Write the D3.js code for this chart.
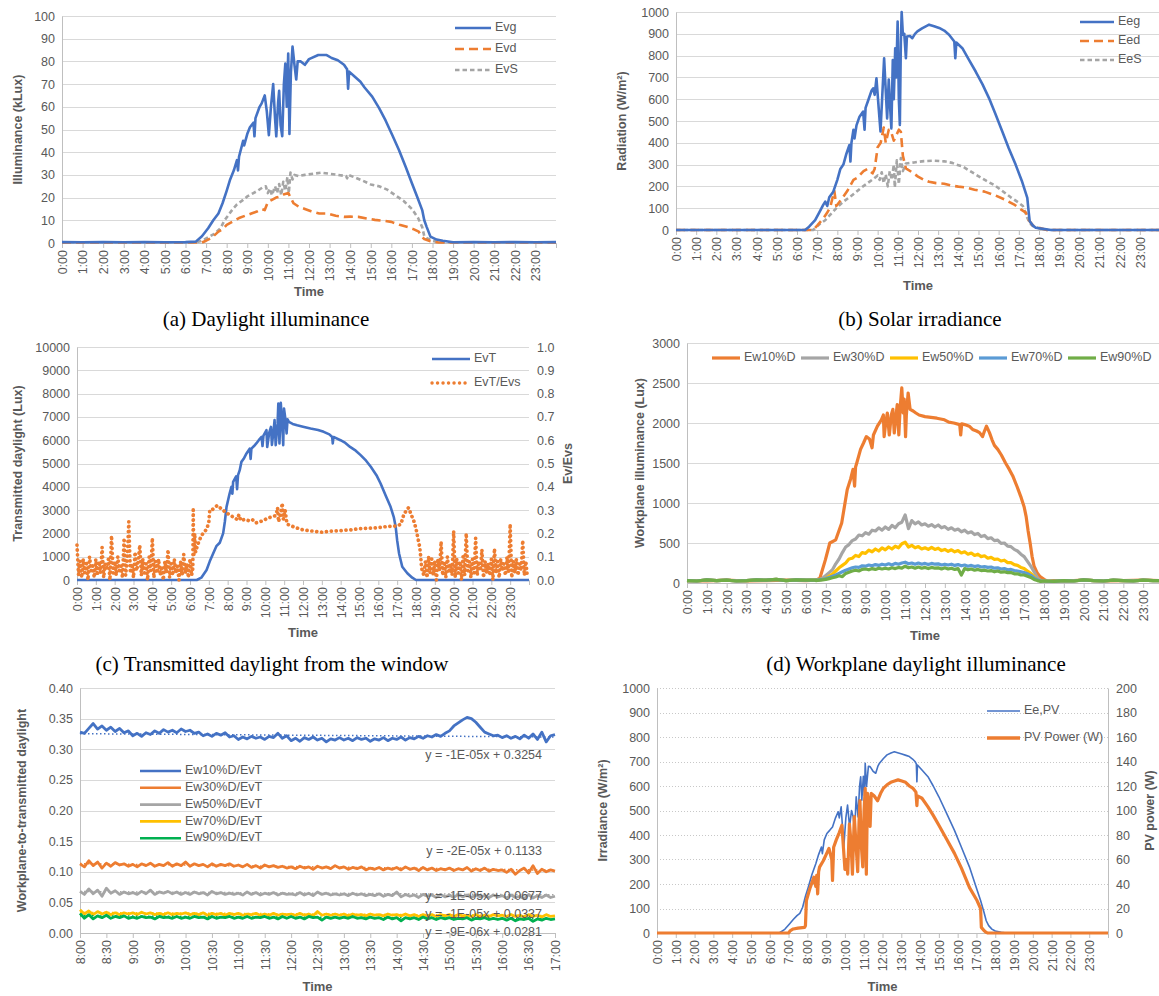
<!DOCTYPE html>
<html>
<head>
<meta charset="utf-8">
<script src="https://cdn.jsdelivr.net/npm/d3@7"></script>
<style>
  body { margin: 0; background: #fff; }
  svg { display: block; }
</style>
</head>
<body>
<svg id="fig" width="1159" height="996"></svg>
<script>
// ---------- data (hour, value) ----------

// (a) daylight illuminance, kLux
const evg = [[0,0.4],[1,0.3],[2,0.4],[3,0.3],[4,0.4],[5,0.3],[6,0.4],[6.5,0.6],[6.8,3],[7.1,6.5],[7.35,10],[7.6,13],[7.8,17.5],[8,23],[8.17,28],[8.35,32],[8.5,36.5],[8.55,32],[8.6,38],[8.8,45],[8.85,43],[9.0,48],[9.13,51],[9.3,53],[9.35,47],[9.4,55],[9.6,60],[9.7,61.5],[9.85,65],[9.95,58],[10.05,47.5],[10.15,60],[10.26,70],[10.35,55],[10.41,47],[10.5,62],[10.55,67],[10.62,52],[10.7,47],[10.78,70],[10.85,79],[10.92,60],[10.99,83.5],[11.05,48],[11.12,75],[11.2,86.5],[11.3,78],[11.38,72],[11.45,80],[11.6,80],[11.8,78.5],[12.0,81],[12.45,82.8],[12.86,82.8],[13.1,81.5],[13.4,80.5],[13.7,78.5],[13.85,76.5],[13.9,68],[13.95,75.5],[14.2,73.5],[14.5,71],[14.7,68.5],[15.07,64.5],[15.4,59.5],[15.72,54],[16.05,47.5],[16.37,41],[16.7,33.5],[17.0,26.3],[17.25,20.5],[17.5,14.5],[17.6,10],[17.72,7],[17.9,2.8],[18.2,1.5],[18.5,1],[19,0.3],[20,0.4],[21,0.3],[22,0.4],[23,0.3],[24,0.4]]
const evd = [[0,0.2],[6.8,0.2],[7.0,1],[7.3,2.5],[7.6,5],[7.8,6],[8.0,8],[8.3,9.5],[8.6,11],[8.9,12],[9.2,13],[9.5,14],[9.7,15],[9.85,14.5],[10.0,18],[10.2,19],[10.4,20],[10.6,20.5],[10.8,21.5],[11.0,22],[11.1,20],[11.25,17.5],[11.5,16],[11.8,15],[12.1,14],[12.5,13],[12.9,13],[13.3,12],[13.7,11.5],[14.0,11.6],[14.4,11.5],[14.8,10.8],[15.2,10.2],[15.6,9.8],[16,9.3],[16.4,8],[16.8,7],[17.1,6],[17.33,5],[17.45,3],[17.6,1.8],[17.9,0.8],[18.3,0.2],[24,0.2]]
const evs = [[0,0.3],[6.5,0.3],[6.8,1],[7.1,2.5],[7.4,4],[7.7,6.5],[7.9,10],[8.1,12.5],[8.3,15],[8.5,17],[8.8,19],[9.0,20.5],[9.3,22],[9.5,23],[9.75,24.5],[9.9,25],[10.0,22],[10.1,24],[10.2,21],[10.35,25],[10.45,22],[10.55,26],[10.65,21],[10.75,27],[10.85,23],[10.95,29],[11.02,22],[11.1,31],[11.2,28],[11.3,30],[11.5,29.5],[11.8,30],[12.2,30.5],[12.6,31],[13.0,30.5],[13.4,30],[13.8,29.5],[13.85,28.5],[13.9,30],[14.2,29],[14.6,27.5],[15.0,25.8],[15.4,25],[15.8,23.5],[16.2,21],[16.6,18.5],[17.0,15],[17.3,11],[17.5,7],[17.6,3],[17.75,2],[18.0,1],[18.3,0.3],[24,0.3]]

// (b) solar irradiance, W/m2
const eeg = [[0,0],[6.4,0],[6.6,15],[6.9,45],[7.1,80],[7.3,115],[7.4,130],[7.5,110],[7.6,150],[7.8,176],[8.0,230],[8.15,280],[8.3,300],[8.45,350],[8.6,390],[8.65,314],[8.7,400],[8.8,460],[8.85,420],[8.95,480],[9.1,520],[9.28,543],[9.35,460],[9.4,560],[9.55,600],[9.7,640],[9.78,650],[9.85,620],[9.94,696],[10.05,560],[10.14,452],[10.22,600],[10.32,788],[10.4,640],[10.47,512],[10.55,690],[10.62,560],[10.68,466],[10.75,780],[10.8,600],[10.87,834],[10.92,700],[10.99,956],[11.05,600],[11.1,482],[11.15,860],[11.19,1000],[11.25,896],[11.32,900],[11.4,788],[11.45,888],[11.6,890],[11.72,880],[11.85,900],[11.97,911],[12.2,925],[12.55,942],[12.8,935],[13.05,927],[13.3,915],[13.54,896],[13.8,865],[13.85,788],[13.9,860],[14.2,834],[14.5,785],[14.86,727],[15.2,668],[15.52,605],[15.85,530],[16.18,452],[16.5,375],[16.84,300],[17.15,225],[17.42,147],[17.48,90],[17.54,40],[17.7,20],[17.84,10],[18.2,5],[18.6,0],[24,0]]
const eed = [[0,0],[6.8,0],[7.0,20],[7.3,53],[7.5,80],[7.65,105],[7.85,180],[7.95,110],[8.2,140],[8.5,180],[8.8,230],[9.0,240],[9.3,270],[9.5,280],[9.75,260],[9.85,280],[10.0,380],[10.15,400],[10.3,470],[10.4,400],[10.55,460],[10.7,440],[10.8,410],[10.95,440],[11.05,460],[11.15,450],[11.25,340],[11.4,283],[11.7,265],[12.0,245],[12.3,230],[12.55,221],[12.9,215],[13.3,212],[13.6,205],[14.0,199],[14.4,195],[14.8,185],[15.3,176],[15.8,160],[16.3,140],[16.8,115],[17.1,95],[17.35,80],[17.5,45],[17.7,20],[18.0,10],[18.4,0],[24,0]]
const ees = [[0,0],[6.8,0],[7.1,25],[7.4,45],[7.7,75],[8.0,105],[8.3,130],[8.6,150],[8.9,172],[9.2,195],[9.5,215],[9.8,235],[10.0,250],[10.1,230],[10.2,265],[10.3,215],[10.4,255],[10.5,200],[10.6,270],[10.7,230],[10.8,300],[10.85,195],[10.95,320],[11.05,210],[11.15,330],[11.25,270],[11.4,305],[11.8,310],[12.3,316],[12.8,318],[13.3,315],[13.7,308],[13.9,300],[14.2,292],[14.8,258],[15.4,225],[15.8,205],[16.2,178],[16.6,150],[17.0,125],[17.2,110],[17.4,60],[17.55,30],[17.7,18],[18.0,8],[18.4,0],[24,0]]

// (c) transmitted daylight (Lux) and EvT/Evs ratio
const evt = [[0,0],[6.36,0],[6.6,100],[6.88,430],[7.05,800],[7.23,1140],[7.4,1450],[7.58,1600],[7.76,2000],[7.85,2500],[7.94,3140],[8.1,3700],[8.2,4000],[8.25,3700],[8.29,4210],[8.45,4450],[8.5,3900],[8.55,4500],[8.64,4714],[8.73,5070],[8.85,5200],[9.0,5430],[9.17,5640],[9.22,5200],[9.26,5640],[9.4,5750],[9.52,5860],[9.65,6000],[9.8,6140],[9.85,5750],[9.9,6200],[10.06,6430],[10.1,5710],[10.2,6300],[10.3,6570],[10.35,5800],[10.45,6500],[10.49,6860],[10.55,5790],[10.65,6700],[10.69,7570],[10.75,5860],[10.8,7000],[10.82,7600],[10.9,6600],[10.95,5790],[10.99,7360],[11.05,7000],[11.13,6290],[11.18,6900],[11.25,6790],[11.45,6700],[11.69,6640],[12.0,6580],[12.4,6500],[12.8,6440],[13.1,6360],[13.4,6250],[13.55,6140],[13.58,5860],[13.62,6140],[13.99,6000],[14.25,5880],[14.5,5710],[14.8,5550],[15.06,5360],[15.35,5120],[15.6,4860],[15.9,4500],[16.12,4140],[16.4,3600],[16.65,3140],[16.82,2700],[16.92,2290],[17.0,1700],[17.1,1140],[17.27,570],[17.54,290],[17.8,100],[18.0,0],[24,0]]
// night ratio samples every 5 minutes
const ratioNightAm = [.15,.02,.08,.01,.09,.03,.07,.00,.10,.04,.06,.01,
  .09,.02,.08,.03,.14,.01,.07,.05,.09,.00,.19,.03,
  .08,.02,.10,.04,.06,.01,.18,.02,.09,.25,.03,.07,
  .01,.12,.04,.08,.15,.02,.09,.03,.07,.00,.10,.04,
  .18,.01,.08,.03,.09,.02,.06,.00,.08,.03,.13,.01,
  .07,.02,.09,.03,.06,.00,.08,.02,.11,.03,.07,.01,
  .09,.02]
const ratioDay = [[6.15,0.05],[6.17,0.31],[6.2,0.1],[6.25,0.2],[6.3,0.12],[6.4,0.15],[6.5,0.17],[6.6,0.19],[6.7,0.2],[6.8,0.21],[6.9,0.22],[7.0,0.25],[7.05,0.3],[7.15,0.3],[7.3,0.31],[7.45,0.32],[7.6,0.31],[7.75,0.3],[7.9,0.29],[8.1,0.28],[8.3,0.27],[8.5,0.26],[8.6,0.28],[8.7,0.255],[8.9,0.26],[9.1,0.255],[9.3,0.26],[9.5,0.245],[9.7,0.25],[9.9,0.255],[10.1,0.265],[10.3,0.27],[10.5,0.275],[10.6,0.29],[10.65,0.31],[10.7,0.25],[10.8,0.28],[10.9,0.33],[10.95,0.26],[11.05,0.3],[11.15,0.24],[11.3,0.235],[11.6,0.225],[12.0,0.215],[12.5,0.21],[13.0,0.205],[13.5,0.21],[14.0,0.212],[14.5,0.215],[15.0,0.22],[15.5,0.222],[16.0,0.225],[16.5,0.23],[17.0,0.232],[17.2,0.24],[17.35,0.28],[17.5,0.3],[17.6,0.31],[17.7,0.29],[17.8,0.27],[17.9,0.25],[18.0,0.22],[18.1,0.18],[18.2,0.14],[18.25,0.1],[18.3,0.05]]
const ratioNightPm = [.02,.08,.01,.10,.03,.09,.02,
  .08,.00,.09,.04,.165,.02,.08,.01,.10,.03,.07,.02,
  .21,.01,.09,.03,.08,.00,.10,.02,.20,.04,.08,.01,
  .09,.03,.18,.02,.08,.04,.13,.01,.08,.03,.07,.02,
  .09,.00,.135,.03,.08,.01,.09,.04,.07,.02,.10,.03,
  .24,.01,.08,.03,.09,.02,.07,.04,.17,.02,.08,.01]

// (d) workplane illuminance (Lux)
const ew10 = [[0,30],[1,25],[2,35],[3,25],[4,30],[5,35],[6,30],[6.5,35],[6.7,60],[6.98,292],[7.2,500],[7.5,540],[7.8,750],[8.08,1170],[8.25,1300],[8.37,1420],[8.45,1210],[8.5,1450],[8.56,1500],[8.75,1670],[8.9,1750],[9.04,1830],[9.2,1800],[9.33,1690],[9.4,1850],[9.6,1960],[9.8,2040],[9.9,2100],[9.94,1830],[10.02,2000],[10.1,2125],[10.2,1850],[10.3,2100],[10.38,2170],[10.45,1875],[10.52,2050],[10.6,2230],[10.68,1850],[10.75,2200],[10.83,2440],[10.9,2125],[10.95,2300],[11.02,1830],[11.06,2100],[11.15,2375],[11.25,2170],[11.4,2150],[11.54,2125],[11.7,2100],[12.0,2080],[12.3,2070],[12.6,2060],[12.98,2040],[13.2,2010],[13.45,2000],[13.75,1980],[13.8,1850],[13.85,1990],[14.0,1980],[14.23,1960],[14.4,1920],[14.6,1900],[14.75,1880],[14.9,1830],[15.0,1900],[15.1,1960],[15.25,1880],[15.38,1790],[15.5,1720],[15.67,1670],[15.85,1600],[16.06,1500],[16.25,1420],[16.44,1330],[16.65,1200],[16.83,1080],[17.0,950],[17.1,830],[17.2,650],[17.3,500],[17.4,330],[17.5,210],[17.65,130],[17.8,80],[18.0,45],[18.2,20],[18.5,30],[19,25],[20,35],[21,25],[22,30],[23,35],[24,30]]
// 10-minute samples from 6:30 to 18:00
const ew30Day = [35,40,60, 95,130,165,240,300,380, 450,480,530,550,600,590, 630,610,660,650,690,660, 700,670,720,690,740,760, 850,680,780,740,765,725, 740,710,730,700,725,690, 705,670,690,660,675,640, 660,625,640,605,620,580, 595,555,565,530,535,495, 500,460,455,420,400,360, 330,270,210,140,65,30, 25]
const ew50Day = [35,40,45, 60,85,110,150,190,220, 250,300,310,345,330,380, 370,410,390,425,400,440, 415,450,425,460,440,490, 510,450,470,440,455,425, 440,420,445,420,435,405, 420,395,415,390,405,375, 390,360,375,345,360,330, 340,310,320,295,300,275, 285,255,255,230,220,195, 180,150,120,80,40,25, 25]
const ew70Day = [35,40,45, 55,70,85,100,120,140, 160,175,190,200,195,215, 210,225,215,230,220,235, 225,240,225,245,235,250, 260,240,250,235,250,235, 245,230,245,235,240,225, 235,225,235,220,230,215, 225,210,220,205,215,200, 205,195,200,185,190,175, 180,165,170,155,150,140, 130,115,95,65,40,25, 25]
const ew90Day = [30,35,40, 45,55,65,75,90,80, 120,135,150,160,150,170, 175,165,180,170,185,175, 185,175,190,180,195,185, 210,190,200,185,200,185, 195,180,195,185,190,175, 190,175,185,170,180,100, 180,165,175,160,170,155, 160,150,155,140,150,135, 140,130,130,115,115,100, 100,85,70,45,30,20, 25]
const dNightAm = [[0,30],[0.5,25],[1,40],[1.5,30],[2,35],[2.5,25],[3,30],[3.5,40],[4,35],[4.5,45],[5,30],[5.5,40],[6,35],[6.5,35]]
const dNightPm = [[18,25],[18.5,20],[19,30],[19.5,25],[20,40],[20.5,30],[21,25],[21.5,35],[22,30],[22.5,25],[23,35],[23.5,30],[24,30]]

// (e) workplane-to-transmitted ratios, 5-minute samples 8:00-17:00
const r10 = [.328,.326,.334,.342,.333,.338,.331,.336,.329,.334,.327,.330,
  .322,.326,.321,.327,.324,.330,.326,.332,.328,.331,.327,.333,
  .329,.331,.326,.328,.322,.325,.321,.326,.323,.327,.320,.322,
  .316,.320,.317,.321,.318,.320,.316,.321,.319,.326,.318,.322,
  .314,.318,.313,.319,.316,.320,.315,.318,.312,.317,.315,.319,
  .315,.318,.314,.319,.316,.318,.313,.317,.315,.319,.314,.318,
  .316,.320,.315,.319,.317,.321,.318,.322,.320,.324,.321,.326,
  .330,.338,.343,.348,.352,.350,.344,.336,.328,.325,.322,.323,
  .319,.322,.318,.321,.317,.323,.318,.325,.316,.328,.312,.322,.324]
const r30 = [.113,.108,.118,.110,.116,.106,.114,.109,.115,.111,.113,.109,
  .112,.108,.113,.110,.114,.109,.112,.110,.115,.109,.113,.110,
  .116,.109,.113,.110,.112,.108,.113,.109,.112,.110,.113,.109,
  .111,.108,.112,.107,.110,.106,.111,.108,.110,.107,.109,.106,
  .108,.105,.109,.106,.108,.104,.109,.106,.108,.105,.110,.106,
  .108,.104,.107,.105,.108,.103,.106,.104,.107,.103,.106,.104,
  .107,.103,.108,.104,.106,.102,.107,.103,.106,.102,.105,.103,
  .106,.102,.105,.103,.107,.101,.105,.102,.106,.101,.104,.102,
  .103,.099,.104,.096,.102,.106,.098,.110,.097,.104,.100,.103,.101]
const r50 = [.068,.063,.072,.064,.070,.060,.073,.065,.069,.063,.067,.064,
  .066,.063,.068,.064,.070,.063,.067,.065,.068,.064,.067,.063,
  .066,.063,.067,.064,.066,.062,.068,.064,.066,.063,.065,.063,
  .065,.062,.067,.063,.066,.062,.065,.063,.066,.062,.065,.063,
  .064,.062,.066,.062,.065,.061,.067,.063,.065,.062,.064,.062,
  .064,.061,.065,.062,.064,.061,.063,.061,.064,.060,.063,.061,
  .067,.059,.063,.060,.062,.058,.063,.060,.062,.058,.063,.059,
  .062,.058,.063,.059,.062,.058,.062,.059,.061,.058,.062,.059,
  .061,.057,.062,.058,.060,.056,.063,.057,.061,.058,.062,.058,.060]
const r70 = [.038,.031,.036,.030,.035,.031,.034,.030,.033,.030,.033,.031,
  .033,.030,.034,.031,.033,.030,.032,.030,.033,.030,.032,.031,
  .033,.030,.032,.030,.033,.029,.032,.030,.032,.029,.032,.030,
  .032,.029,.031,.030,.032,.029,.031,.029,.032,.029,.031,.030,
  .031,.029,.032,.029,.031,.028,.035,.029,.031,.029,.031,.029,
  .031,.028,.031,.029,.030,.028,.031,.029,.030,.028,.031,.029,
  .030,.028,.031,.028,.030,.027,.030,.028,.030,.027,.030,.028,
  .030,.027,.030,.028,.029,.027,.030,.027,.029,.027,.030,.028,
  .029,.027,.030,.027,.029,.026,.030,.027,.029,.026,.030,.027,.028]
const r90 = [.032,.024,.030,.023,.028,.025,.029,.024,.027,.025,.028,.024,
  .026,.024,.027,.025,.026,.023,.027,.025,.026,.024,.027,.024,
  .026,.024,.027,.025,.026,.023,.027,.024,.026,.025,.027,.024,
  .026,.024,.027,.024,.026,.025,.027,.024,.026,.023,.027,.024,
  .027,.024,.026,.023,.027,.025,.026,.021,.026,.024,.026,.024,
  .026,.024,.027,.024,.025,.023,.026,.024,.025,.022,.026,.023,
  .025,.020,.025,.023,.025,.022,.026,.023,.025,.022,.025,.023,
  .025,.022,.024,.023,.025,.021,.024,.023,.025,.022,.024,.022,
  .024,.021,.024,.020,.023,.022,.024,.019,.023,.021,.024,.022,.023]
// linear trend lines: value at 8:00 and at 17:00, from the fitted equations
const trendStart = [0.3254, 0.1133, 0.0677, 0.0337, 0.0281]
const trendEnd = [0.3200, 0.1025, 0.0623, 0.0283, 0.0232]
const trendLabels = ['y = -1E-05x + 0.3254', 'y = -2E-05x + 0.1133', 'y = -1E-05x + 0.0677', 'y = -1E-05x + 0.0337', 'y = -9E-06x + 0.0281']

// (f) PV irradiance (W/m2) and PV power (W)
const eepv = [[0,0],[6.5,0],[6.8,15],[7.05,37],[7.25,55],[7.45,71],[7.6,80],[7.75,105],[7.9,150],[8.05,187],[8.25,240],[8.45,283],[8.6,320],[8.75,351],[8.8,324],[8.9,380],[9.04,406],[9.2,420],[9.34,433],[9.5,470],[9.64,495],[9.7,470],[9.8,515],[9.94,350],[10.05,470],[10.14,522],[10.25,433],[10.35,500],[10.44,474],[10.52,420],[10.6,556],[10.7,474],[10.78,600],[10.84,638],[10.9,542],[10.98,640],[11.04,560],[11.08,693],[11.15,598],[11.25,680],[11.34,679],[11.5,660],[11.64,652],[11.75,680],[11.84,693],[12.05,712],[12.24,727],[12.45,735],[12.63,740],[12.85,735],[13.03,731],[13.25,725],[13.43,720],[13.6,710],[13.73,700],[13.8,690],[13.83,617],[13.86,686],[14.1,665],[14.42,638],[14.7,600],[15.0,556],[15.4,490],[15.83,419],[16.2,350],[16.63,269],[16.95,195],[17.22,133],[17.4,85],[17.52,50],[17.65,30],[17.82,16],[18.0,8],[18.32,3],[18.6,0],[24,0]]
const pvp = [[0,0],[7.0,0],[7.1,2],[7.25,3.3],[7.5,4],[7.85,4.6],[7.9,6],[7.95,26.5],[8.15,37],[8.35,45.6],[8.45,38],[8.5,47],[8.55,32],[8.6,50],[8.65,53.8],[8.85,59],[9.0,64],[9.15,69],[9.3,60],[9.34,43],[9.4,70],[9.54,76],[9.7,82],[9.84,88],[9.92,70],[10.0,52],[10.08,60],[10.15,48],[10.24,89],[10.32,75],[10.4,48],[10.5,95],[10.6,70],[10.68,50],[10.75,90],[10.8,108],[10.88,70],[10.95,54],[11.02,100],[11.08,118],[11.14,48],[11.2,114],[11.28,105],[11.34,87],[11.4,114],[11.55,112],[11.74,108],[11.9,114],[12.04,118],[12.24,121],[12.44,123],[12.64,124],[12.83,125],[13.03,124],[13.23,123],[13.43,120],[13.63,118],[13.78,115],[13.83,104],[13.86,112],[14.1,110],[14.42,103],[14.7,96],[15.0,88],[15.4,77],[15.83,65],[16.2,53],[16.63,37],[17.03,26.5],[17.22,20],[17.26,4.6],[17.4,2],[17.52,0.5],[17.6,0],[24,0]]

const dayHours = d3.range(0, 24)
const halfHours = d3.range(8, 17.01, 0.5)

// ---------- drawing ----------
const svg = d3.select('#fig')
const FONT = "'Liberation Sans', Arial, sans-serif"
const TXT = '#595959'
const GRID = '#d9d9d9'
const AXIS = '#bfbfbf'
const COL = {
  blue: '#4472c4', orange: '#ed7d31', gray: '#a5a5a5', yellow: '#ffc000',
  lblue: '#5b9bd5', green: '#70ad47', egreen: '#00b050'
}

const hourLabel = h => {
  const hh = Math.floor(h + 1e-6)
  const mm = Math.round((h - hh) * 60)
  return hh + ':' + String(mm).padStart(2, '0')
}

function panel(p) {
  const g = svg.append('g')
  const x = d3.scaleLinear().domain(p.xDomain).range([p.left, p.right])
  const y = d3.scaleLinear().domain([0, p.yMax]).range([p.bottom, p.top])
  const yTicks = d3.range(0, p.yMax + p.yStep / 2, p.yStep)

  g.append('g').selectAll('line').data(yTicks.slice(1)).join('line')
    .attr('x1', p.left).attr('x2', p.right)
    .attr('y1', d => Math.round(y(d)) + 0.5).attr('y2', d => Math.round(y(d)) + 0.5)
    .attr('stroke', p.dotted ? '#c8c8c8' : GRID)
    .attr('stroke-dasharray', p.dotted ? '1,2' : null)

  const ya = g.append('g').attr('transform', `translate(${p.left},0)`)
    .call(d3.axisLeft(y).tickValues(yTicks).tickFormat(p.yFmt).tickSize(0).tickPadding(7))
  ya.select('.domain').attr('stroke', AXIS)
  ya.selectAll('text').attr('fill', TXT).attr('font-size', 12.5).attr('font-family', FONT)

  const xa = g.append('g').attr('transform', `translate(0,${p.bottom})`)
    .call(d3.axisBottom(x).tickValues(p.xTicks).tickFormat(hourLabel).tickSize(5))
  xa.select('.domain').attr('stroke', AXIS)
  xa.selectAll('.tick line').attr('stroke', AXIS)
  xa.selectAll('text')
    .attr('transform', 'rotate(-90)')
    .attr('x', -7).attr('y', 0).attr('dy', '0.35em')
    .attr('text-anchor', 'end')
    .attr('fill', TXT).attr('font-size', 12.5).attr('font-family', FONT)

  g.append('text')
    .attr('transform', `translate(${p.titleX},${(p.top + p.bottom) / 2}) rotate(-90)`)
    .attr('text-anchor', 'middle').attr('dominant-baseline', 'middle')
    .attr('font-family', FONT).attr('font-weight', 'bold').attr('font-size', 12.5)
    .attr('fill', TXT).text(p.yTitle)

  g.append('text')
    .attr('x', (p.left + p.right) / 2).attr('y', p.timeY)
    .attr('text-anchor', 'middle').attr('dominant-baseline', 'middle')
    .attr('font-family', FONT).attr('font-weight', 'bold').attr('font-size', 13)
    .attr('fill', TXT).text('Time')

  let yR = null
  if (p.rMax) {
    yR = d3.scaleLinear().domain([0, p.rMax]).range([p.bottom, p.top])
    const ra = g.append('g').attr('transform', `translate(${p.right},0)`)
      .call(d3.axisRight(yR).tickValues(d3.range(0, p.rMax + p.rStep / 2, p.rStep))
        .tickFormat(p.rFmt).tickSize(0).tickPadding(8))
    ra.select('.domain').attr('stroke', p.rLine ? AXIS : 'none')
    ra.selectAll('text').attr('fill', TXT).attr('font-size', 12.5).attr('font-family', FONT)
    g.append('text')
      .attr('transform', `translate(${p.rTitleX},${(p.top + p.bottom) / 2}) rotate(-90)`)
      .attr('text-anchor', 'middle').attr('dominant-baseline', 'middle')
      .attr('font-family', FONT).attr('font-weight', 'bold').attr('font-size', 12.5)
      .attr('fill', TXT).text(p.rTitle)
  }

  if (p.caption) {
    g.append('text')
      .attr('x', p.caption[1]).attr('y', p.caption[2])
      .attr('text-anchor', 'middle')
      .attr('font-family', "'Liberation Serif', 'Times New Roman', serif")
      .attr('font-size', 21).attr('fill', '#000').text(p.caption[0])
  }
  return { g, x, y, yR }
}

function drawLine(g, data, x, y, st) {
  g.append('path')
    .attr('d', d3.line().x(d => x(d[0])).y(d => y(d[1]))(data))
    .attr('fill', 'none')
    .attr('stroke', st.color)
    .attr('stroke-width', st.width || 2.5)
    .attr('stroke-dasharray', st.dash || null)
    .attr('stroke-linecap', st.cap || 'butt')
    .attr('stroke-linejoin', 'round')
}

function legendItem(g, x1, x2, y, label, st) {
  g.append('line').attr('x1', x1).attr('x2', x2).attr('y1', y).attr('y2', y)
    .attr('stroke', st.color).attr('stroke-width', st.width || 2.5)
    .attr('stroke-dasharray', st.dash || null).attr('stroke-linecap', st.cap || 'butt')
  g.append('text').attr('x', x2 + 4).attr('y', y).attr('dominant-baseline', 'middle')
    .attr('font-family', FONT).attr('font-size', 12.5).attr('fill', TXT).text(label)
}

const sSolid = c => ({ color: c, width: 2.6 })
const sDash = c => ({ color: c, width: 2.6, dash: '9,5' })
const sShort = c => ({ color: c, width: 2.6, dash: '4.5,3' })
const sDots = c => ({ color: c, width: 3.7, dash: '0.1,4.8', cap: 'round' })

// (a)
const pa = panel({ left: 62, right: 556, top: 16, bottom: 243, xDomain: [0, 24], xTicks: dayHours,
  yMax: 100, yStep: 10, yFmt: d3.format('d'), yTitle: 'Illuminance (kLux)', titleX: 19, timeY: 293,
  caption: ['(a) Daylight illuminance', 266, 326] })
drawLine(pa.g, evs, pa.x, pa.y, sShort(COL.gray))
drawLine(pa.g, evd, pa.x, pa.y, sDash(COL.orange))
drawLine(pa.g, evg, pa.x, pa.y, sSolid(COL.blue))
legendItem(pa.g, 455, 491, 28, 'Evg', sSolid(COL.blue))
legendItem(pa.g, 455, 491, 49, 'Evd', sDash(COL.orange))
legendItem(pa.g, 455, 491, 70, 'EvS', sShort(COL.gray))

// (b)
const pb = panel({ left: 676, right: 1160, top: 12, bottom: 230, xDomain: [0, 24], xTicks: dayHours,
  yMax: 1000, yStep: 100, yFmt: d3.format('d'), yTitle: 'Radiation (W/m²)', titleX: 623, timeY: 287,
  caption: ['(b) Solar irradiance', 920, 326] })
drawLine(pb.g, ees, pb.x, pb.y, sShort(COL.gray))
drawLine(pb.g, eed, pb.x, pb.y, sDash(COL.orange))
drawLine(pb.g, eeg, pb.x, pb.y, sSolid(COL.blue))
legendItem(pb.g, 1080, 1114, 22, 'Eeg', sSolid(COL.blue))
legendItem(pb.g, 1080, 1114, 41, 'Eed', sDash(COL.orange))
legendItem(pb.g, 1080, 1114, 60, 'EeS', sShort(COL.gray))

// (c)
const pc = panel({ left: 77, right: 529, top: 347, bottom: 580, xDomain: [0, 24], xTicks: dayHours,
  yMax: 10000, yStep: 1000, yFmt: d3.format('d'), yTitle: 'Transmitted daylight (Lux)', titleX: 19, timeY: 634,
  rMax: 1, rStep: 0.1, rFmt: d3.format('.1f'), rTitle: 'Ev/Evs', rTitleX: 569,
  caption: ['(c) Transmitted daylight from the window', 272, 671] })
const pmStart = 18 + 25 / 60
const ratioAll = [
  ...ratioNightAm.map((v, i) => [i / 12, v]),
  ...ratioDay,
  ...ratioNightPm.map((v, i) => [pmStart + i / 12, v])
]
drawLine(pc.g, evt, pc.x, pc.y, sSolid(COL.blue))
drawLine(pc.g, ratioAll, pc.x, pc.yR, sDots(COL.orange))
legendItem(pc.g, 432, 470, 359, 'EvT', sSolid(COL.blue))
legendItem(pc.g, 432, 470, 383, 'EvT/Evs', { color: COL.orange, width: 3.4, dash: '0.1,5.4', cap: 'round' })

// (d)
const pd = panel({ left: 687, right: 1163, top: 343, bottom: 583, xDomain: [0, 24], xTicks: dayHours,
  yMax: 3000, yStep: 500, yFmt: d3.format('d'), yTitle: 'Workplane illuminance (Lux)', titleX: 641, timeY: 637,
  caption: ['(d) Workplane daylight illuminance', 916, 671] })
const withNight = day => [...dNightAm, ...day.map((v, i) => [6.5 + i / 6, v]), ...dNightPm]
const dSeries = [
  [ew10, COL.orange, 'Ew10%D'],
  [withNight(ew30Day), COL.gray, 'Ew30%D'],
  [withNight(ew50Day), COL.yellow, 'Ew50%D'],
  [withNight(ew70Day), COL.lblue, 'Ew70%D'],
  [withNight(ew90Day), COL.green, 'Ew90%D']
]
dSeries.forEach(([data, c]) => drawLine(pd.g, data, pd.x, pd.y, { color: c, width: 3.2 }))
dSeries.forEach(([, c, label], i) => legendItem(pd.g, 712 + i * 89, 740 + i * 89, 358, label, { color: c, width: 3.2 }))

// (e)
const pe = panel({ left: 80, right: 555, top: 688, bottom: 933, xDomain: [8, 17], xTicks: halfHours,
  yMax: 0.4, yStep: 0.05, yFmt: d3.format('.2f'), yTitle: 'Workplane-to-transmitted  daylight', titleX: 23, timeY: 988 })
const eSeries = [
  [r10, COL.blue, 'Ew10%D/EvT'],
  [r30, COL.orange, 'Ew30%D/EvT'],
  [r50, COL.gray, 'Ew50%D/EvT'],
  [r70, COL.yellow, 'Ew70%D/EvT'],
  [r90, COL.egreen, 'Ew90%D/EvT']
]
eSeries.forEach(([vals, c]) => drawLine(pe.g, vals.map((v, i) => [8 + i / 12, v]), pe.x, pe.y, { color: c, width: 2.8 }))
eSeries.forEach(([, c], i) => drawLine(pe.g, [[8, trendStart[i]], [17, trendEnd[i]]], pe.x, pe.y,
  { color: c, width: 1.5, dash: '1.5,2.5' }))
eSeries.forEach(([, c, label], i) => legendItem(pe.g, 140, 181, 771 + i * 16.8, label, { color: c, width: 2.6 }))
const trendY = [756, 852, 897, 915, 933]
trendLabels.forEach((t, i) => pe.g.append('text')
  .attr('x', 542).attr('y', trendY[i]).attr('text-anchor', 'end').attr('dominant-baseline', 'middle')
  .attr('font-family', FONT).attr('font-size', 12.5).attr('fill', TXT).text(t))

// (f)
const pf = panel({ left: 657, right: 1108, top: 688, bottom: 933, xDomain: [0, 24], xTicks: dayHours,
  yMax: 1000, yStep: 100, yFmt: d3.format('d'), yTitle: 'Irradiance (W/m²)', titleX: 604, timeY: 988, dotted: true,
  rMax: 200, rStep: 20, rFmt: d3.format('d'), rTitle: 'PV power (W)', rTitleX: 1151, rLine: true })
drawLine(pf.g, eepv, pf.x, pf.y, { color: COL.blue, width: 1.6 })
drawLine(pf.g, pvp, pf.x, pf.yR, { color: COL.orange, width: 3.2 })
legendItem(pf.g, 987, 1020, 711, 'Ee,PV', { color: COL.blue, width: 1.6 })
legendItem(pf.g, 987, 1020, 738, 'PV Power (W)', { color: COL.orange, width: 3.5 })
</script>
</body>
</html>
